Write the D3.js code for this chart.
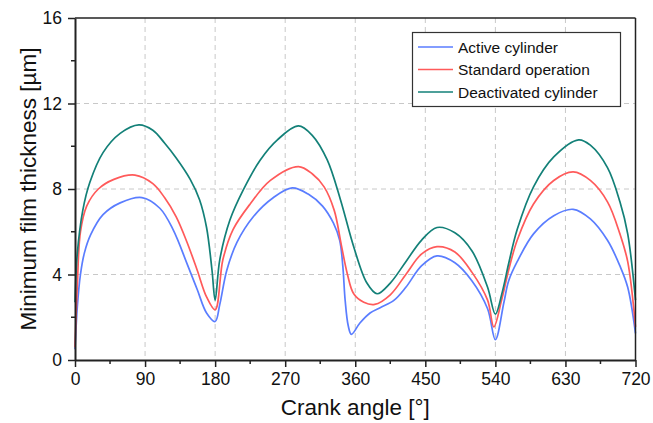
<!DOCTYPE html>
<html><head><meta charset="utf-8">
<script src="https://cdn.jsdelivr.net/npm/d3@7"></script>
<style>body{margin:0;background:#fff;} svg{display:block;font-family:"Liberation Sans",Arial,sans-serif;}</style>
</head><body><svg id="c" width="653" height="423"></svg>
<script>
const xTicks = [0, 90, 180, 270, 360, 450, 540, 630, 720];
const yTicks = [0, 4, 8, 12, 16];
const seriesNames = ["Active cylinder", "Standard operation", "Deactivated cylinder"];
const seriesColors = ["#5A7DFF", "#FF5A5A", "#138078"];
const active = [[0,0.5],[3,2.5],[7,4.0],[12,5.0],[20,5.85],[36,6.8],[58,7.35],[86,7.6],[109,7.1],[126,6.1],[144,4.5],[157,3.3],[169,2.2],[180,1.8],[186,2.6],[195,4.2],[208,5.5],[229,6.7],[255,7.6],[279,8.05],[300,7.75],[318,7.2],[332,6.4],[340,5.6],[344,4.4],[347,2.8],[351,1.6],[355,1.2],[366,1.73],[379,2.2],[392,2.45],[410,2.8],[425,3.4],[445,4.4],[465,4.87],[488,4.55],[510,3.7],[530,2.4],[540,0.95],[551,2.7],[557,3.7],[568,4.6],[589,5.9],[615,6.75],[640,7.05],[662,6.6],[684,5.6],[700,4.4],[710,3.4],[720,1.25]];
const standard = [[0,0.6],[3,3.5],[7,6.0],[15,7.2],[30,8.0],[50,8.45],[77,8.65],[100,8.25],[115,7.6],[130,6.7],[144,5.5],[157,4.2],[169,2.95],[180,2.35],[190,4.7],[203,6.1],[225,7.3],[251,8.4],[287,9.05],[305,8.7],[320,8.1],[333,7.0],[342,5.4],[350,4.0],[358,3.1],[371,2.7],[385,2.6],[405,3.05],[425,4.0],[445,4.95],[465,5.3],[488,5.05],[510,4.1],[530,2.8],[538,1.55],[548,2.8],[557,4.2],[568,5.6],[589,7.3],[615,8.4],[640,8.8],[662,8.4],[684,7.4],[700,5.9],[710,4.6],[720,1.55]];
const deactivated = [[0,2.7],[3,5.0],[10,7.0],[19,8.3],[36,9.7],[58,10.6],[82,11.0],[100,10.75],[115,10.15],[130,9.45],[148,8.45],[160,7.5],[169,6.2],[176,4.2],[180,2.8],[186,4.7],[199,6.55],[216,7.95],[238,9.36],[260,10.3],[287,10.95],[305,10.5],[324,9.36],[341,7.5],[358,5.3],[375,3.6],[388,3.1],[405,3.6],[425,4.6],[445,5.6],[465,6.2],[488,5.95],[510,5.1],[530,3.4],[540,2.15],[549,3.2],[557,4.5],[568,6.1],[589,8.1],[615,9.5],[647,10.3],[662,10.05],[684,9.0],[700,7.4],[710,5.9],[720,2.8]];
const allSeries = [active, standard, deactivated];

const svg = d3.select("#c");
const L = 75, R = 635.5, T = 18, B = 360;
const x = d3.scaleLinear().domain([0, 720]).range([L, R]);
const y = d3.scaleLinear().domain([0, 16]).range([B, T]);

// grid
const grid = svg.append("g").attr("stroke", "#c8c8c8").attr("stroke-width", 1).attr("stroke-dasharray", "5,4");
xTicks.slice(1, -1).forEach(t => grid.append("line").attr("x1", x(t)).attr("x2", x(t)).attr("y1", T).attr("y2", B));
yTicks.slice(1, -1).forEach(t => grid.append("line").attr("x1", L).attr("x2", R).attr("y1", y(t)).attr("y2", y(t)));

// lines
const line = d3.line().x(d => x(d[0])).y(d => y(d[1])).curve(d3.curveCatmullRom.alpha(0.5));
allSeries.forEach((s, i) => {
  svg.append("path").datum(s).attr("d", line).attr("fill", "none")
    .attr("stroke", seriesColors[i]).attr("stroke-width", 1.7);
});

// frame
svg.append("line").attr("x1", L).attr("x2", R).attr("y1", T).attr("y2", T).attr("stroke", "#222").attr("stroke-width", 1.5);
svg.append("line").attr("x1", R).attr("x2", R).attr("y1", T).attr("y2", B).attr("stroke", "#222").attr("stroke-width", 1.5);

// axes
const xAxis = d3.axisBottom(x).tickValues(xTicks).tickSize(7).tickPadding(6).tickSizeOuter(0);
const gx = svg.append("g").attr("transform", `translate(0,${B})`).call(xAxis);
gx.append("g").selectAll("line").data(d3.range(45, 720, 90)).join("line")
  .attr("x1", d => x(d)).attr("x2", d => x(d)).attr("y1", 0).attr("y2", 4).attr("stroke", "#222").attr("stroke-width", 1.5);
const yAxis = d3.axisLeft(y).tickValues(yTicks).tickSize(7).tickPadding(6).tickSizeOuter(0);
const gy = svg.append("g").attr("transform", `translate(${L},0)`).call(yAxis);
gy.append("g").selectAll("line").data(d3.range(2, 16, 4)).join("line")
  .attr("x1", 0).attr("x2", -4).attr("y1", d => y(d)).attr("y2", d => y(d)).attr("stroke", "#222").attr("stroke-width", 1.5);
[gx, gy].forEach(g => {
  g.select(".domain").attr("stroke", "#222").attr("stroke-width", 2);
  g.selectAll(".tick line").attr("stroke", "#222").attr("stroke-width", 1.5);
  g.selectAll("text").attr("font-size", 17.5).attr("fill", "#111").attr("font-family", "Liberation Sans, Arial, sans-serif");
});

// titles
svg.append("text").attr("x", (L + R) / 2).attr("y", 415).attr("text-anchor", "middle")
  .attr("font-size", 22.5).attr("fill", "#111").text("Crank angle [°]");
svg.append("text").attr("transform", `translate(36,${(T + B) / 2}) rotate(-90)`).attr("text-anchor", "middle")
  .attr("font-size", 22.5).attr("fill", "#111").text("Minimum film thickness [µm]");

// legend
const lg = svg.append("g");
lg.append("rect").attr("x", 412.5).attr("y", 32.5).attr("width", 208).attr("height", 74)
  .attr("fill", "#fff").attr("stroke", "#333").attr("stroke-width", 1.2);
seriesNames.forEach((n, i) => {
  const yy = 47 + i * 22.5;
  lg.append("line").attr("x1", 418).attr("x2", 453).attr("y1", yy).attr("y2", yy)
    .attr("stroke", seriesColors[i]).attr("stroke-width", 1.7);
  lg.append("text").attr("x", 458).attr("y", yy + 5.5).attr("font-size", 15.5).attr("fill", "#111").text(n);
});
</script></body></html>
